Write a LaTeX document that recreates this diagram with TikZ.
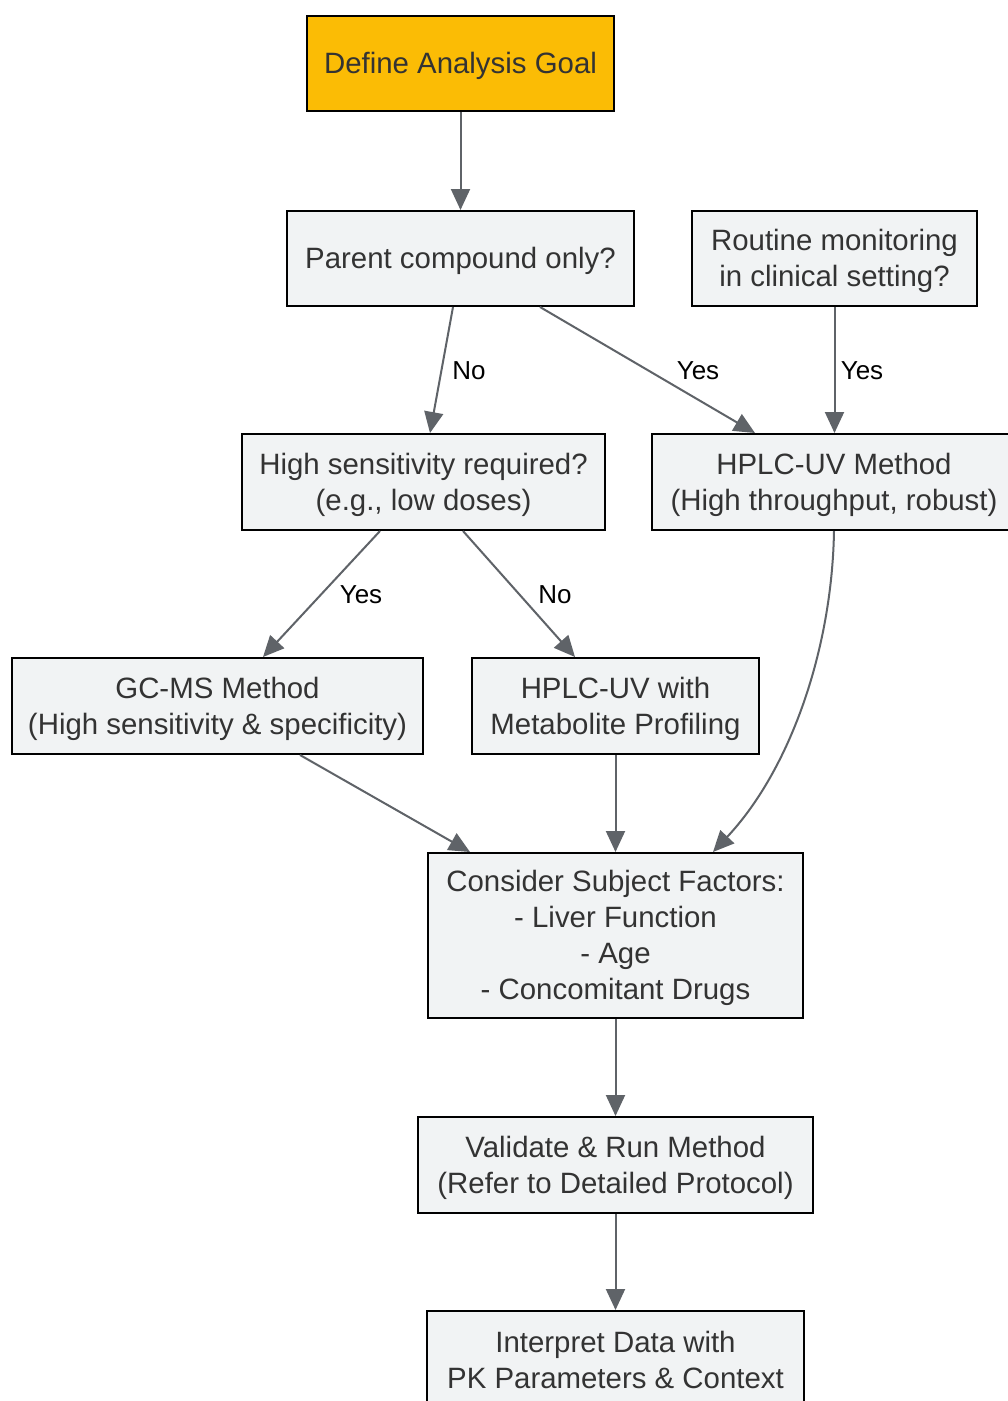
\documentclass[tikz,border=0pt]{standalone}
\usepackage{fontspec}
\setmainfont{Liberation Sans}
\usetikzlibrary{arrows.meta,calc}
\definecolor{boxfill}{HTML}{F1F3F4}
\definecolor{goalfill}{HTML}{FBBC05}
\definecolor{edgecol}{HTML}{5F6368}
\definecolor{txtcol}{HTML}{333333}
\newcommand\firststrut{\rule{0pt}{28pt}}
\newcommand\laststrut{\rule[-8pt]{0pt}{8pt}}
\begin{document}
\begin{tikzpicture}[x=1pt,y=-1pt,
  basebox/.style={draw=black, line width=2pt, fill=boxfill, text=txtcol, align=center,
    inner sep=0pt, font=\fontsize{29.4}{36}\selectfont},
  box/.style={basebox, execute at begin node={\rule{0pt}{28.5pt}},
    execute at end node={\rule[-8pt]{0pt}{8pt}}},
  mbox/.style={basebox},
  goalbox/.style={box, fill=goalfill},
  conn/.style={draw=edgecol, line width=2pt, -{Triangle[length=21pt,width=19pt]}},
  lbl/.style={text=black, font=\fontsize{26}{30}\selectfont, inner sep=0pt}]
\useasboundingbox[fill=white] (0,0) rectangle (1008,1401);

\node[goalbox, minimum width=307pt, minimum height=95pt] (goal) at (460.5,63.5) {Define Analysis Goal};
\node[box, minimum width=347pt, minimum height=95pt] (parent) at (460.5,258.5) {Parent compound only?};
\node[mbox, minimum width=285pt, minimum height=95pt] (routine) at (834.5,258.5) {\firststrut Routine monitoring\\in clinical setting?\laststrut};
\node[mbox, minimum width=363pt, minimum height=96pt] (highsens) at (423.5,482) {\firststrut High sensitivity required?\\(e.g., low doses)\laststrut};
\node[mbox, minimum width=364pt, minimum height=96pt] (hplcuv) at (834,482) {\firststrut HPLC-UV Method\\(High throughput, robust)\laststrut};
\node[mbox, minimum width=411pt, minimum height=96pt] (gcms) at (217.5,706) {\firststrut GC-MS Method\\(High sensitivity \& specificity)\laststrut};
\node[mbox, minimum width=287pt, minimum height=96pt] (hplcmeta) at (615.5,706) {\firststrut HPLC-UV with\\Metabolite Profiling\laststrut};
\node[mbox, minimum width=375pt, minimum height=165pt] (consider) at (615.5,935.5) {\firststrut Consider Subject Factors:\\- Liver Function\\- Age\\- Concomitant Drugs\laststrut};
\node[mbox, minimum width=395pt, minimum height=96pt] (validate) at (615.5,1165) {\firststrut Validate \& Run Method\\(Refer to Detailed Protocol)\laststrut};
\node[mbox, minimum width=377pt, minimum height=98pt] (interpret) at (615.5,1360) {\firststrut Interpret Data with\\PK Parameters \& Context\laststrut};

\draw[conn] (goal.south) -- (parent.north);
\draw[conn] ($(parent.south)+(-7.5,0)$) -- ($(highsens.north)+(6.5,0)$);
\draw[conn] ($(parent.south)+(79.5,0)$) -- ($(hplcuv.north)+(-79,0)$);
\draw[conn] (routine.south) -- ($(hplcuv.north)+(0.5,0)$);
\draw[conn] ($(highsens.south)+(-43.5,0)$) -- ($(gcms.north)+(45.5,0)$);
\draw[conn] ($(highsens.south)+(39.5,0)$) -- ($(hplcmeta.north)+(-40.5,0)$);
\draw[conn] (hplcuv.south) .. controls (832,650) and (790,770) .. ($(consider.north)+(97.5,0)$);
\draw[conn] ($(gcms.south)+(82.5,0)$) -- ($(consider.north)+(-145.5,0)$);
\draw[conn] (hplcmeta.south) -- (consider.north);
\draw[conn] (consider.south) -- (validate.north);
\draw[conn] (validate.south) -- (interpret.north);

\node[lbl] (l1) at (469,371) {No};
\node[lbl] (l2) at (698,371) {Yes};
\node[lbl] (l3) at (862,371) {Yes};
\node[lbl] (l4) at (361,595) {Yes};
\node[lbl] (l5) at (555,595) {No};
\end{tikzpicture}
\end{document}
